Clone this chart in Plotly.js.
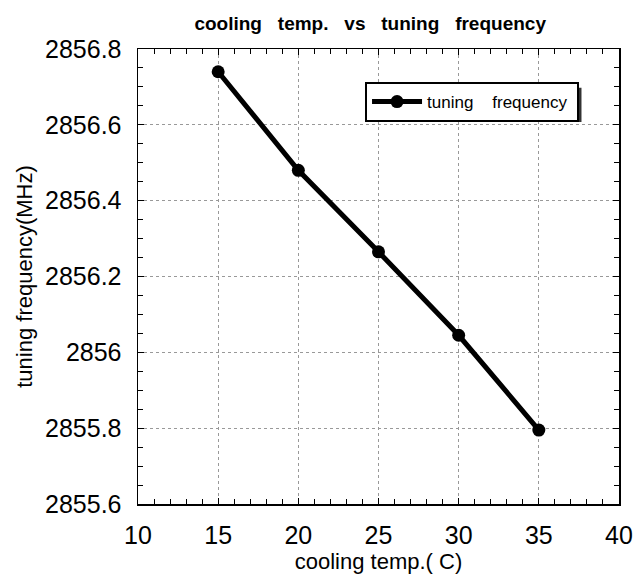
<!DOCTYPE html>
<html>
<head>
<meta charset="utf-8">
<script src="https://cdn.plot.ly/plotly-3.0.1.min.js"></script>
<style>html,body{margin:0;padding:0;background:#fff;}#chart{width:635px;height:574px;}</style>
</head>
<body>
<div id="chart"></div>
<script>
var coolingTemp = [15, 20, 25, 30, 35];
var tuningFreq = [2856.74, 2856.48, 2856.265, 2856.045, 2855.795];
var xTickVals = [10, 15, 20, 25, 30, 35, 40];
var yTickVals = [2855.6, 2855.8, 2856, 2856.2, 2856.4, 2856.6, 2856.8];
var yTickText = ['2855.6', '2855.8', '2856', '2856.2', '2856.4', '2856.6', '2856.8'];

var sp = '\u00a0\u00a0\u00a0';
var trace = {
  x: coolingTemp,
  y: tuningFreq,
  type: 'scatter',
  mode: 'lines+markers',
  name: 'tuning\u00a0\u00a0\u00a0\u00a0frequency\u00a0',
  line: {color: '#000', width: 5},
  marker: {color: '#000', size: 13}
};

var axisCommon = {
  showline: true, linecolor: '#000', linewidth: 1.5, mirror: 'ticks',
  ticks: 'inside', ticklen: 6, tickwidth: 1, tickcolor: '#000',
  showgrid: true, gridcolor: '#999', gridwidth: 1, griddash: 'dot',
  zeroline: false,
  tickfont: {family: 'Liberation Sans', size: 25, color: '#000'}
};

var layout = {
  width: 635, height: 574,
  margin: {l: 138, r: 16, t: 49, b: 70},
  paper_bgcolor: '#fff', plot_bgcolor: '#fff',
  showlegend: true,
  title: {
    text: 'cooling' + sp + 'temp.' + sp + 'vs' + sp + 'tuning' + sp + 'frequency',
    font: {family: 'Liberation Sans', size: 19, color: '#000', weight: 'bold'},
    x: 0.583, xanchor: 'center', y: 0.96, yanchor: 'middle'
  },
  xaxis: Object.assign({}, axisCommon, {
    range: [10, 40], tickvals: xTickVals, ticklabelstandoff: 8,
    minor: {dtick: 1, ticks: 'inside', ticklen: 5, tickcolor: '#000', showgrid: false},
    title: {text: 'cooling temp.( C)', font: {family: 'Liberation Sans', size: 22, color: '#000'}}
  }),
  yaxis: Object.assign({}, axisCommon, {
    range: [2855.6, 2856.8], tickvals: yTickVals, ticktext: yTickText, ticklabelstandoff: 10,
    minor: {dtick: 0.05, ticks: 'inside', ticklen: 5, tickcolor: '#000', showgrid: false},
    title: {text: 'tuning frequency(MHz)', font: {family: 'Liberation Sans', size: 22, color: '#000'}, standoff: 6}
  }),
  legend: {
    x: 0.472, y: 0.9275, xanchor: 'left', yanchor: 'top',
    bgcolor: '#fff', bordercolor: '#000', borderwidth: 2,
    font: {family: 'Liberation Sans', size: 17, color: '#000'},
    itemwidth: 50
  },
  shapes: [{
    type: 'rect', xref: 'paper', yref: 'paper',
    x0: 0.485, x1: 0.922, y0: 0.8396, y1: 0.915,
    fillcolor: '#333', line: {width: 0}, layer: 'above'
  }]
};

Plotly.newPlot('chart', [trace], layout, {displayModeBar: false, staticPlot: true});
</script>
</body>
</html>
